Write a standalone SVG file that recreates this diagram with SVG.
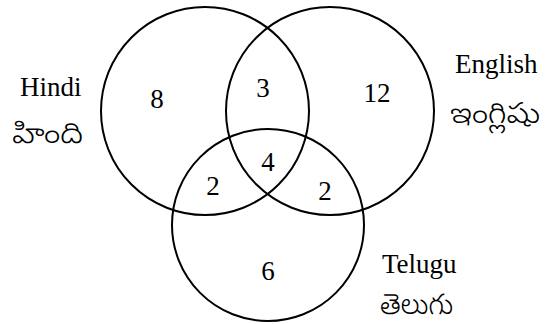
<svg xmlns="http://www.w3.org/2000/svg" width="557" height="324" viewBox="0 0 557 324">
<style>
.c{fill:none;stroke:#000;stroke-width:2}
.t{font-family:"Liberation Serif","Times New Roman",serif;font-size:27px;fill:#000}
.n{font-family:"Liberation Serif","Times New Roman",serif;font-size:27px;fill:#000;text-anchor:middle}
.te{font-family:"Noto Sans Telugu","Noto Serif Telugu","Lohit Telugu","Gautami","Noto Sans",sans-serif;font-size:29px;font-weight:300;fill:#000}
</style>
<rect width="557" height="324" fill="#fff"/>
<g id="connectors"></g>
<g id="hindi">
<circle class="c" cx="205" cy="111" r="104"/>
<text class="t" x="20" y="96">Hindi</text>
<text class="te" x="12" y="143" textLength="71" lengthAdjust="spacingAndGlyphs">హింది</text>
</g>
<g id="english">
<circle class="c" cx="330" cy="111" r="104"/>
<text class="t" x="455" y="73">English</text>
<text class="te" x="450" y="123" textLength="90" lengthAdjust="spacingAndGlyphs">ఇంగ్లిషు</text>
</g>
<g id="telugu">
<circle class="c" cx="268" cy="225" r="96"/>
<text class="t" x="382" y="273">Telugu</text>
<text class="te" x="380" y="314" textLength="73" lengthAdjust="spacingAndGlyphs">తెలుగు</text>
</g>
<g id="counts">
<text class="n" x="157" y="108">8</text>
<text class="n" x="263" y="97">3</text>
<text class="n" x="377" y="102">12</text>
<text class="n" x="268" y="171">4</text>
<text class="n" x="213" y="195">2</text>
<text class="n" x="325" y="200">2</text>
<text class="n" x="268" y="280">6</text>
</g>
</svg>
